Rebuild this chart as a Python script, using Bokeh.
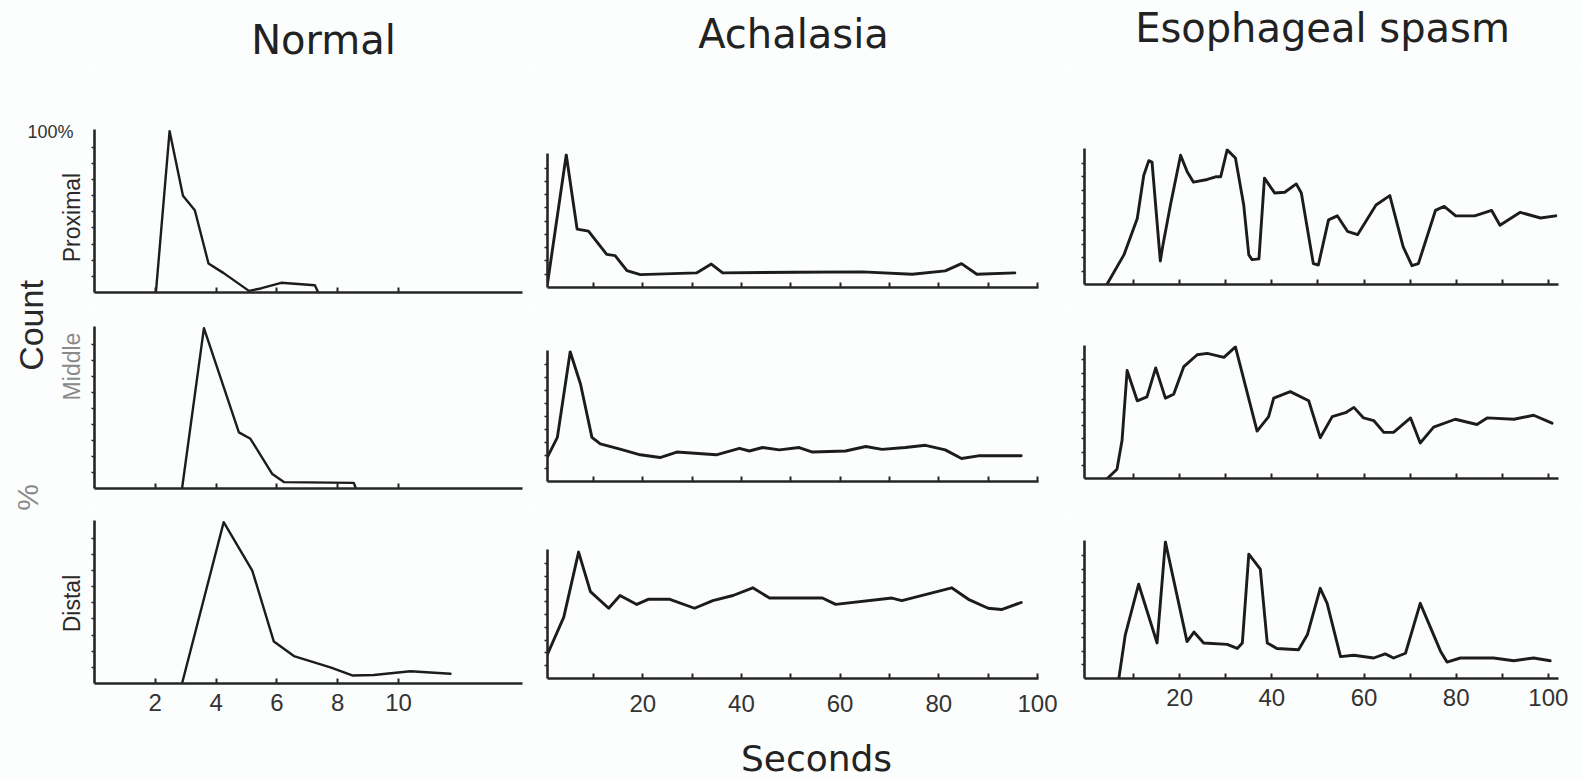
import math
from bokeh.plotting import figure
from bokeh.layouts import row, column
from bokeh.models import Range1d, FixedTicker, Label
from bokeh.embed import file_html
from bokeh.resources import INLINE

# ---------------- data ----------------
conditions = ["Normal", "Achalasia", "Esophageal spasm"]
segments = ["Proximal", "Middle", "Distal"]
x_title = "Seconds"
y_title_pct = "%"
y_title_word = "Count"
y_top_label = "100%"

normal_ticks = [2, 4, 6, 8, 10]
long_ticks = [20, 40, 60, 80, 100]
long_minor_ticks = [10, 30, 50, 70, 90]

# Normal (seconds 0-14)
normal_prox_x = [2.02, 2.47, 2.91, 3.30, 3.75, 4.25, 5.08, 5.47, 6.14, 7.25, 7.36]
normal_prox_y = [0, 100, 60, 51, 18, 12, 1, 2.5, 6, 4.5, 0]
normal_mid_x = [2.88, 3.60, 4.75, 5.13, 5.85, 6.23, 8.53, 8.60]
normal_mid_y = [0, 100, 35, 31, 9, 4, 3.5, 0]
normal_dist_x = [2.88, 4.25, 5.19, 5.90, 6.56, 7.76, 8.48, 9.19, 10.39, 11.71]
normal_dist_y = [0, 100, 70, 26, 17, 10, 5, 5.3, 7.6, 6]

# Achalasia (seconds 0-100)
achal_prox_x = [0.7, 4.5, 6.7, 9.0, 12.7, 14.4, 16.8, 19.5, 30.9, 33.9, 36.2, 51.0, 64.5, 74.6, 81.3, 84.6, 87.7, 95.4]
achal_prox_y = [3, 100, 44, 42.5, 25, 24, 12.7, 9.7, 11, 17.7, 11, 11.5, 11.8, 10, 12.5, 18, 10, 11]
achal_mid_x = [0.7, 2.7, 5.3, 7.4, 9.7, 11.4, 15.4, 19.5, 23.5, 26.9, 34.9, 39.6, 41.6, 44.3, 47.7, 51.7,
               54.4, 61.1, 65.2, 68.5, 73.2, 77.3, 81.3, 84.6, 88.0, 96.7]
achal_mid_y = [19, 34, 100, 75, 34, 29, 25, 20.6, 18.5, 22.7, 20.6, 25.6, 23.5, 26.2, 24.4, 26.2,
               22.7, 23.5, 27, 24.8, 26.2, 27.9, 24.4, 17.7, 19.8, 19.8]
achal_dist_x = [0.7, 4.0, 7.0, 9.4, 13.1, 15.4, 18.8, 21.1, 25.5, 30.5, 34.2, 38.3, 42.3, 45.7, 56.4,
                59.1, 70.5, 72.5, 82.6, 86.0, 90.0, 92.7, 96.7]
achal_dist_y = [19, 48, 99, 68, 55, 65, 58, 62, 62, 55, 61, 65, 71, 63, 63,
                58, 63, 61, 71, 62, 55, 54, 59.5]

# Esophageal spasm (seconds 0-100)
spasm_prox_x = [4.2, 7.9, 10.8, 12.2, 13.3, 14.0, 15.8, 16.3, 18.0, 20.2, 21.6, 23.0, 26.0, 27.8, 28.9,
                30.3, 32.1, 33.9, 35.0, 35.7, 37.2, 38.4, 40.6, 42.8, 45.3, 46.4, 49.0, 50.1, 52.3,
                54.2, 56.4, 58.6, 62.6, 65.6, 68.5, 70.4, 71.8, 75.5, 77.4, 79.9, 84.0, 87.7, 89.5,
                93.9, 98.3, 101.6]
spasm_prox_y = [0, 22, 49, 81, 92, 91, 17.5, 28, 59, 96, 84, 76, 78, 80, 80,
                100, 94, 59, 22, 18.5, 19, 79, 68, 68.5, 74.7, 68, 15.5, 14.5, 48,
                51, 39.5, 37, 59, 66, 28, 14, 15.5, 55, 58, 51, 51, 55, 44,
                53.6, 49.4, 51]
spasm_mid_x = [4.3, 6.4, 7.5, 8.6, 10.8, 12.9, 14.8, 16.9, 18.7, 20.9, 23.8, 26.0, 29.6, 32.1, 36.8,
               39.3, 40.4, 44.0, 48.0, 50.5, 53.1, 56.0, 57.8, 59.9, 62.1, 64.3, 66.4, 70.1, 72.2,
               75.1, 79.8, 84.5, 86.7, 92.5, 96.8, 100.8]
spasm_mid_y = [0, 7, 29, 82, 59, 62, 84, 61, 64, 85, 94, 95, 92, 100, 36,
               47, 61, 66, 59, 31, 47, 50, 54, 46, 44, 35, 35, 46, 27,
               39, 45, 41, 46, 45, 48, 42]
spasm_dist_x = [6.8, 8.2, 11.1, 15.1, 16.9, 21.6, 23.1, 25.2, 30.3, 32.5, 33.6, 35.0, 37.5, 39.0, 41.1,
                45.8, 47.7, 50.5, 52.0, 54.9, 57.8, 62.1, 64.6, 66.4, 69.0, 72.2, 76.6, 78.0, 80.9,
                88.1, 92.5, 96.8, 100.4]
spasm_dist_y = [0, 32, 69, 26, 100, 27, 34, 26, 25, 22, 26, 91, 80, 26, 22,
                21, 32, 66, 55, 16, 17, 15, 18, 15, 18.5, 55, 20, 12, 15,
                15, 13, 15, 13]

# ---------------- styling ----------------
BG = "#fcfdfd"
INK = "#1c1c1c"
AXIS = "#262626"
SANS = "Liberation Sans"
TITLE_FONT = "DejaVu Sans"
W, H = 1582, 781
HEADER_H, FOOTER_H, STRIP_W = 66, 51, 88


def text_strip(width, y0, y1):
    """A bare figure whose frame fills its canvas; y grows downward from page top."""
    p = figure(width=width, height=y1 - y0, x_range=Range1d(0, width), y_range=Range1d(y1, y0),
               output_backend="svg", toolbar_location=None, title=None,
               x_axis_location=None, y_axis_location=None, min_border=0)
    p.background_fill_color = BG
    p.border_fill_color = BG
    p.outline_line_color = None
    p.xgrid.visible = False
    p.ygrid.visible = False
    return p


def put(p, text, x, y, size, font=SANS, align="center", angle=0.0, color="#222222"):
    p.add_layout(Label(x=x, y=y, text=text, angle=angle, text_align=align, text_baseline="middle",
                       text_font=font, text_font_size=size, text_color=color))


def panel(width, height, borders, xr, xs, ys, ticks, minor, tick_labels, lw, label_standoff=10):
    l, r, t, b = borders
    p = figure(width=width, height=height, x_range=Range1d(*xr), y_range=Range1d(0, 101),
               output_backend="svg", toolbar_location=None, title=None,
               min_border_left=l, min_border_right=r, min_border_top=t, min_border_bottom=b)
    p.background_fill_color = BG
    p.border_fill_color = BG
    p.outline_line_color = None
    p.xgrid.visible = False
    p.ygrid.visible = False
    p.line(xs, ys, line_color=INK, line_width=lw, line_join="round", line_cap="round")

    xa = p.xaxis[0]
    if tick_labels:
        xa.ticker = FixedTicker(ticks=ticks, minor_ticks=minor)
        xa.major_label_text_font = SANS
        xa.major_label_text_font_size = "24px"
        xa.major_label_text_color = "#333333"
        xa.major_label_standoff = label_standoff
    else:
        # same tick marks, but no numbers on the upper rows
        xa.ticker = FixedTicker(ticks=[], minor_ticks=sorted(ticks + minor))
        xa.major_label_standoff = 0
    xa.axis_line_color = AXIS
    xa.axis_line_width = 2.6
    xa.major_tick_line_color = AXIS
    xa.minor_tick_line_color = AXIS
    xa.major_tick_line_width = 2
    xa.minor_tick_line_width = 2
    xa.major_tick_in = 5
    xa.major_tick_out = 0
    xa.minor_tick_in = 5
    xa.minor_tick_out = 0

    ya = p.yaxis[0]
    ya.ticker = FixedTicker(ticks=[], minor_ticks=[10, 20, 30, 40, 50, 60, 70, 80, 90])
    ya.axis_line_color = AXIS
    ya.axis_line_width = 2.6
    ya.minor_tick_line_color = AXIS
    ya.minor_tick_line_width = 1.5
    ya.major_tick_in = 0
    ya.major_tick_out = 0
    ya.minor_tick_in = 0
    ya.minor_tick_out = 3
    ya.major_label_standoff = 0
    return p


# ---------------- header with the three condition titles ----------------
header = text_strip(W, 0, HEADER_H)
put(header, conditions[0], 323, 39, "40px", font=TITLE_FONT)
put(header, conditions[1], 793, 33, "40px", font=TITLE_FONT)
put(header, conditions[2], 1322, 27, "40px", font=TITLE_FONT)

# ---------------- left strip with the y labels ----------------
strip = text_strip(STRIP_W, HEADER_H, H - FOOTER_H)
put(strip, y_top_label, 73, 131, "18px", align="right", color="#333333")
put(strip, segments[0], 71, 217, "23px", angle=math.pi / 2, color="#2a2a2a")
put(strip, segments[1], 71, 366, "23px", angle=math.pi / 2, color="#8a8a8a")
put(strip, segments[2], 71, 603, "23px", angle=math.pi / 2, color="#2a2a2a")
put(strip, y_title_word, 30, 325, "34px", angle=math.pi / 2, color="#2a2a2a")
put(strip, y_title_pct, 27, 497, "30px", angle=math.pi / 2, color="#8a8a8a")

# ---------------- footer with the x title ----------------
footer = text_strip(W, H - FOOTER_H, H)
put(footer, x_title, 816, 758, "36px", font=TITLE_FONT)

# ---------------- column 1: Normal ----------------
nx = (0, 14.08)
n1 = panel(447, 242, (6, 13, 63, 16), nx, normal_prox_x, normal_prox_y, normal_ticks, [], False, 2.4)
n2 = panel(447, 196, (6, 13, 18, 16), nx, normal_mid_x, normal_mid_y, normal_ticks, [], False, 2.4)
n3 = panel(447, 226, (6, 13, 16, 47), nx, normal_dist_x, normal_dist_y, normal_ticks, [], True, 2.4,
           label_standoff=10)

# ---------------- column 2: Achalasia ----------------
ax = (0.7, 100.2)
a1 = panel(535, 244, (12, 32, 87, 23), ax, achal_prox_x, achal_prox_y, long_ticks, long_minor_ticks, False, 2.9)
a2 = panel(535, 205, (12, 32, 40, 34), ax, achal_mid_x, achal_mid_y, long_ticks, long_minor_ticks, False, 2.9)
a3 = panel(535, 215, (12, 32, 34, 52), ax, achal_dist_x, achal_dist_y, long_ticks, long_minor_ticks, True, 2.9,
           label_standoff=16)

# ---------------- column 3: Esophageal spasm ----------------
sx = (-0.65, 102.2)
s1 = panel(512, 239, (14, 24, 82, 21), sx, spasm_prox_x, spasm_prox_y, long_ticks, long_minor_ticks, False, 2.9)
s2 = panel(512, 200, (14, 24, 40, 27), sx, spasm_mid_x, spasm_mid_y, long_ticks, long_minor_ticks, False, 2.9)
s3 = panel(512, 225, (14, 24, 35, 52), sx, spasm_dist_x, spasm_dist_y, long_ticks, long_minor_ticks, True, 2.9,
           label_standoff=10)

grid = row(strip,
           column(n1, n2, n3, spacing=0),
           column(a1, a2, a3, spacing=0),
           column(s1, s2, s3, spacing=0),
           spacing=0)
layout = column(header, grid, footer, spacing=0)

open("out.html", "w").write(file_html(layout, INLINE))
